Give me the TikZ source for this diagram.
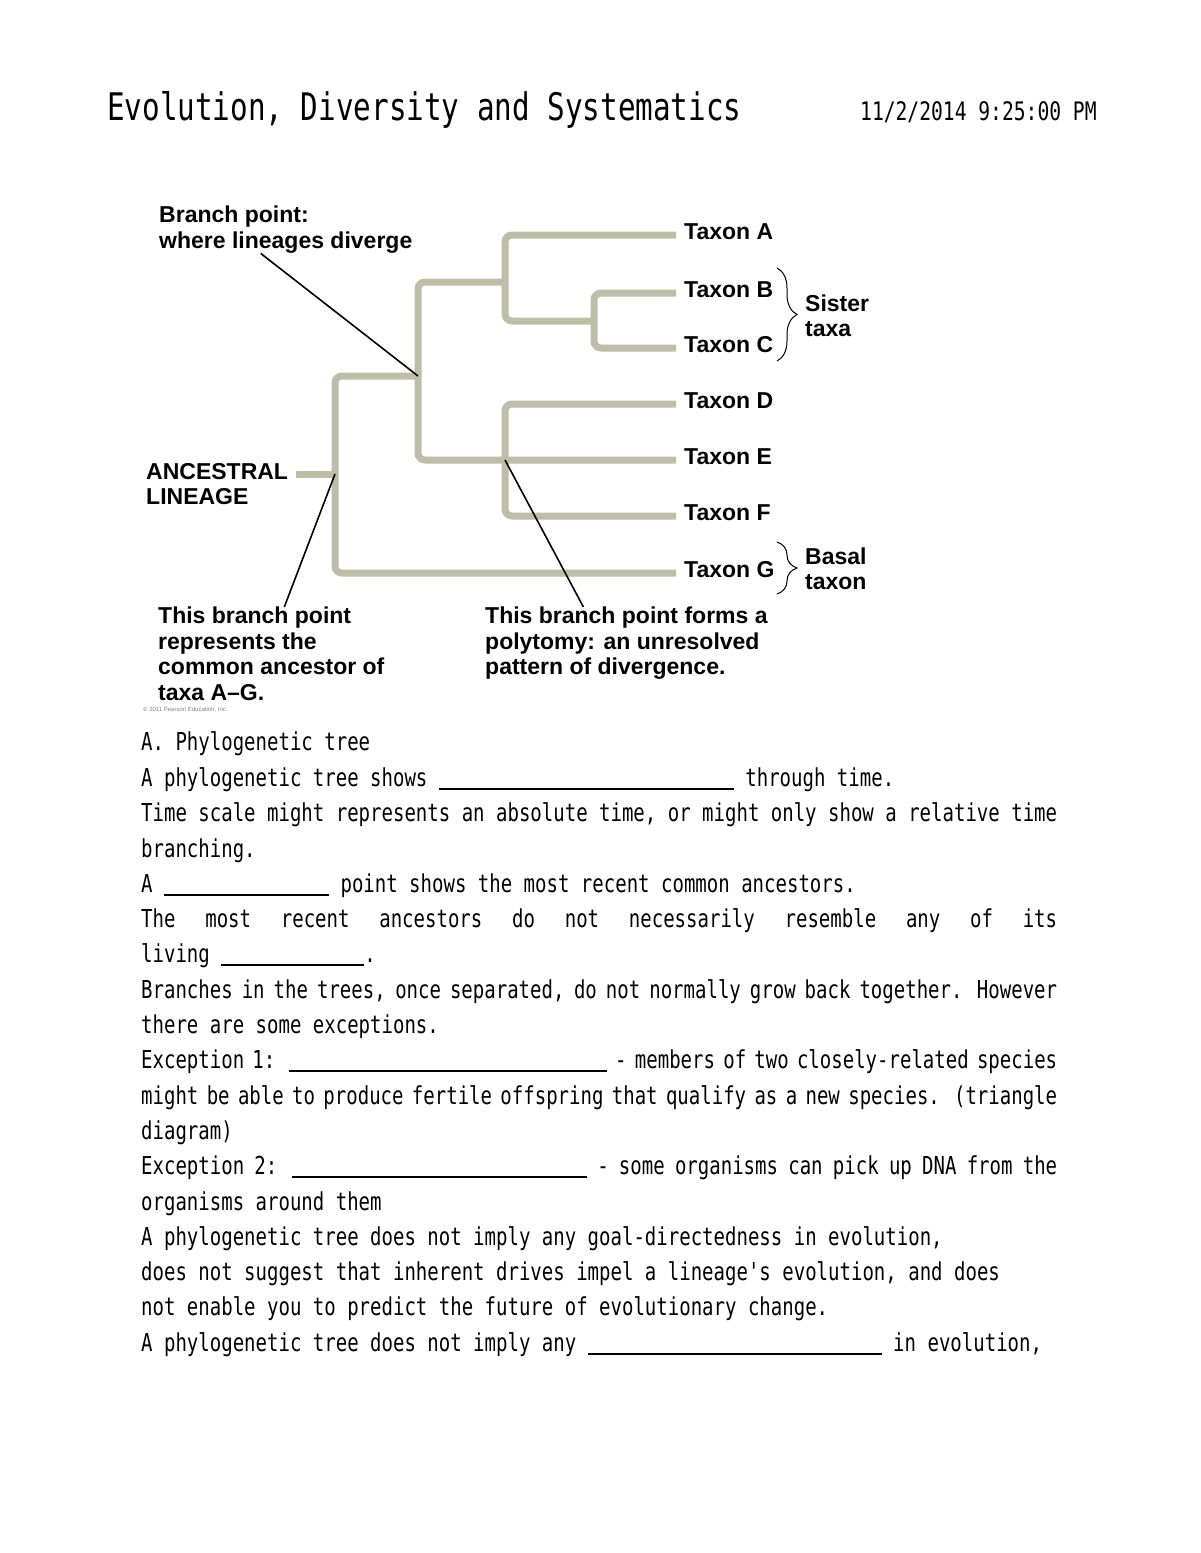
\documentclass[tikz,border=0pt]{standalone}
\usepackage{fontspec}
\usetikzlibrary{decorations.pathreplacing}
\newfontfamily\helv{Liberation Sans}
\newfontfamily\gothic[FakeStretch=0.77]{DejaVu Sans Mono}
\definecolor{stem}{HTML}{BDBDA8}
\tikzset{
  branch/.style={draw=stem, line width=7pt, rounded corners=7pt},
  pointer/.style={draw=black, line width=1.6pt},
  brace/.style={decorate, decoration={brace, amplitude=20pt}, line width=1pt},
  note/.style={font=\helv\bfseries\fontsize{23}{25.5}\selectfont, align=left, inner sep=0pt},
  taxon/.style={note, anchor=west, inner xsep=8pt, text depth=7pt},
  bodyline/.style={font=\gothic\fontsize{24.7}{30}\selectfont, anchor=base west, inner sep=0pt},
}
\newcommand{\blank}[1]{\rule[-4pt]{#1}{2.5pt}}
\newcommand{\fullline}[1]{\hbox to 916pt{\spaceskip=0.46em plus 1fil minus 0.15em\relax #1}}

\begin{document}
\begin{tikzpicture}[x=1pt, y=-1pt]
  \useasboundingbox (0,0) rectangle (1200,1553);
  \node[bodyline, font=\gothic\fontsize{38}{40}\selectfont] (title) at (107,120) {Evolution, Diversity and Systematics};
  \node[bodyline, font=\gothic\fontsize{25.5}{30}\selectfont] (date) at (860,120) {11/2/2014 9:25:00 PM};

  \foreach \t/\y in {A/235, B/293, C/348, D/404, E/460, F/516, G/573}
    \node[taxon] (t\t) at (676,\y) {Taxon \t};
  \coordinate (anc) at (296,474);
  \coordinate (root) at (335,474);
  \coordinate (n1) at (418,376);
  \coordinate (nABC) at (505,282);
  \coordinate (nBC) at (594,321);
  \coordinate (nDEF) at (505,460);
  \draw[branch] (anc) -- (root);
  \draw[branch] (n1) -| (root) |- (tG.west);
  \draw[branch] (nABC) -| (n1) |- (tE.west);
  \draw[branch] (tA.west) -| (nABC) |- (nBC);
  \draw[branch] (tB.west) -| (nBC) |- (tC.west);
  \draw[branch] (tD.west) -| (nDEF) |- (tF.west);

  \node[note, anchor=north west] (bpnote) at (159,206) {Branch point:\\where lineages diverge};
  \node[note, anchor=north west] (ancnote) at (146,463) {ANCESTRAL\\LINEAGE};
  \node[note, anchor=north west] (cnote) at (158,607) {This branch point\\represents the\\common ancestor of\\taxa A–G.};
  \node[note, anchor=north west] (pnote) at (485,607) {This branch point forms a\\polytomy: an unresolved\\pattern of divergence.};
  \node[note, anchor=west] (sister) at (805,316) {Sister\\taxa};
  \node[note, anchor=west] (basal) at (805,569) {Basal\\taxon};
  \node[anchor=west, inner sep=0pt, text=gray, font=\helv\fontsize{6}{7}\selectfont] (copy) at (143,710) {© 2011 Pearson Education, Inc.};

  \draw[pointer] ([xshift=-25pt]bpnote.south) -- (n1);
  \draw[pointer] ([xshift=13pt]cnote.north) -- (root);
  \draw[pointer] ([xshift=-43pt]pnote.north) -- (nDEF);
  \draw[brace] (777,268) -- (777,361);
  \draw[brace] (777,542) -- (777,594);

  \node[bodyline] (l1) at (141,750) {A. Phylogenetic tree};
  \node[bodyline] (l2) at (141,786) {A phylogenetic tree shows \blank{295pt} through time.};
  \node[bodyline] (l3) at (141,821) {\fullline{Time scale might represents an absolute time, or might only show a relative time}};
  \node[bodyline] (l4) at (141,857) {branching.};
  \node[bodyline] (l5) at (141,892) {A \blank{165pt} point shows the most recent common ancestors.};
  \node[bodyline] (l6) at (141,927) {\fullline{The most recent ancestors do not necessarily resemble any of its}};
  \node[bodyline] (l7) at (141,962) {living \blank{143pt}.};
  \node[bodyline] (l8) at (141,998) {\fullline{Branches in the trees, once separated, do not normally grow back together. However}};
  \node[bodyline] (l9) at (141,1033) {there are some exceptions.};
  \node[bodyline] (l10) at (141,1068) {\fullline{Exception 1: \blank{318pt} - members of two closely-related species}};
  \node[bodyline] (l11) at (141,1104) {\fullline{might be able to produce fertile offspring that qualify as a new species. (triangle}};
  \node[bodyline] (l12) at (141,1139) {diagram)};
  \node[bodyline] (l13) at (141,1174) {\fullline{Exception 2: \blank{295pt} - some organisms can pick up DNA from the}};
  \node[bodyline] (l14) at (141,1210) {organisms around them};
  \node[bodyline] (l15) at (141,1245) {A phylogenetic tree does not imply any goal-directedness in evolution,};
  \node[bodyline] (l16) at (141,1280) {does not suggest that inherent drives impel a lineage's evolution, and does};
  \node[bodyline] (l17) at (141,1315) {not enable you to predict the future of evolutionary change.};
  \node[bodyline] (l18) at (141,1351) {A phylogenetic tree does not imply any \blank{294pt} in evolution,};
\end{tikzpicture}
\end{document}
